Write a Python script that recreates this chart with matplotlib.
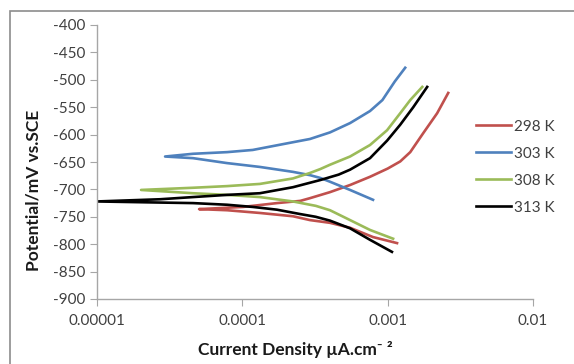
import matplotlib
matplotlib.use('Agg')
import matplotlib.pyplot as plt
from matplotlib.patches import Rectangle

plt.rcParams['font.family'] = ['Lato', 'DejaVu Sans']

# Tafel data: current density (x) and potential mV vs SCE (y)
# each series runs cathodic end -> Ecorr tip -> anodic end
i_298 = [1.16e-3, 7.93e-4, 5.51e-4, 4.01e-4, 2.92e-4, 2.23e-4, 1.32e-4, 7.85e-5, 5.04e-5,
         1.01e-4, 1.73e-4, 2.5e-4, 2.92e-4, 4.01e-4, 5.51e-4, 7.56e-4, 1.0e-3, 1.22e-3,
         1.43e-3, 1.75e-3, 2.19e-3, 2.61e-3]
e_298 = [-798, -787, -770, -761, -756, -749, -743, -738, -736,
         -732, -725, -721, -716, -705, -692, -677, -662, -649,
         -632, -598, -561, -524]

i_303 = [7.93e-4, 5.51e-4, 4.01e-4, 3.43e-4, 2.92e-4, 2.23e-4, 1.32e-4, 7.85e-5, 4.58e-5, 2.94e-5,
         4.58e-5, 7.85e-5, 1.18e-4, 2.03e-4, 2.92e-4, 4.01e-4, 5.51e-4, 7.56e-4,
         9.2e-4, 1.12e-3, 1.32e-3]
e_303 = [-719, -701, -686, -679, -674, -668, -659, -652, -643, -640,
         -635, -632, -628, -616, -608, -596, -579, -557,
         -537, -503, -478]

i_308 = [1.09e-3, 7.56e-4, 5.51e-4, 4.01e-4, 3.2e-4, 2.23e-4, 1.32e-4, 7.85e-5, 4.58e-5, 2.01e-5,
         4.58e-5, 7.85e-5, 1.32e-4, 2.23e-4, 2.92e-4, 3.43e-4, 4.01e-4, 5.51e-4, 7.56e-4,
         9.91e-4, 1.22e-3, 1.43e-3, 1.73e-3]
e_308 = [-790, -774, -756, -738, -730, -722, -714, -710, -707, -701,
         -697, -694, -690, -680, -670, -663, -655, -640, -619,
         -592, -561, -537, -513]

i_313 = [1.07e-3, 7.56e-4, 5.51e-4, 4.01e-4, 3.2e-4, 2.5e-4, 1.73e-4, 1.18e-4, 7.85e-5, 4.58e-5,
         2.71e-5, 1.0e-5,
         2.71e-5, 4.58e-5, 7.85e-5, 1.32e-4, 2.23e-4, 3.43e-4, 4.6e-4, 5.51e-4, 7.56e-4,
         9.91e-4, 1.22e-3, 1.50e-3, 1.87e-3]
e_313 = [-814, -792, -771, -757, -750, -745, -737, -732, -728, -725,
         -724, -722,
         -718, -714, -710, -707, -696, -683, -673, -664, -643,
         -611, -582, -550, -513]

series = [
    ('298 K', i_298, e_298, '#C0504D'),
    ('303 K', i_303, e_303, '#4F81BD'),
    ('308 K', i_308, e_308, '#9BBB59'),
    ('313 K', i_313, e_313, '#000000'),
]

x_ticks = [0.00001, 0.0001, 0.001, 0.01]
x_tick_labels = ['0.00001', '0.0001', '0.001', '0.01']
y_ticks = list(range(-900, -399, 50))

fig = plt.figure(figsize=(5.74, 3.64), dpi=100)
ax = fig.add_axes([97 / 574, 1 - 299 / 364, 436 / 574, 274 / 364])

for label, i_vals, e_vals, col in series:
    ax.plot(i_vals, e_vals, color=col, lw=1.9, label=label, solid_joinstyle='round')

ax.set_xscale('log')
ax.set_xlim(1e-5, 1e-2)
ax.set_ylim(-900, -400)
ax.set_xticks(x_ticks)
ax.set_xticklabels(x_tick_labels)
ax.minorticks_off()
ax.set_yticks(y_ticks)
ax.set_yticklabels([str(v) for v in y_ticks])

for s in ['top', 'right']:
    ax.spines[s].set_visible(False)
for s in ['left', 'bottom']:
    ax.spines[s].set_color('#A6A6A6')
    ax.spines[s].set_linewidth(1.0)
ax.tick_params(axis='both', direction='out', length=5, color='#A6A6A6',
               labelsize=11, labelcolor='#404040')
ax.tick_params(axis='x', pad=6)

fig.text(295 / 574, 1 - 350 / 364, 'Current Density µA.cm⁻ ²', ha='center', va='center',
         fontsize=12.5, fontweight='bold', color='#1a1a1a')
fig.text(34 / 574, 1 - 190 / 364, 'Potential/mV vs.SCE', ha='center', va='center',
         rotation=90, fontsize=12.5, fontweight='bold', color='#1a1a1a')

fig.legend(loc='upper left', bbox_to_anchor=(462 / 574, 1 - 106 / 364), frameon=False,
           fontsize=11, handlelength=2.3, handletextpad=0.2, labelspacing=0.85,
           labelcolor='#404040')

# outer chart border (only top and left edges fall inside the image)
fig.patches.append(Rectangle((10 / 574, -0.1), 1.2, 1 - 11 / 364 + 0.1,
                             transform=fig.transFigure, fill=False,
                             edgecolor='#8C8C8C', lw=1.2))

fig.savefig('out.png', dpi=100)
